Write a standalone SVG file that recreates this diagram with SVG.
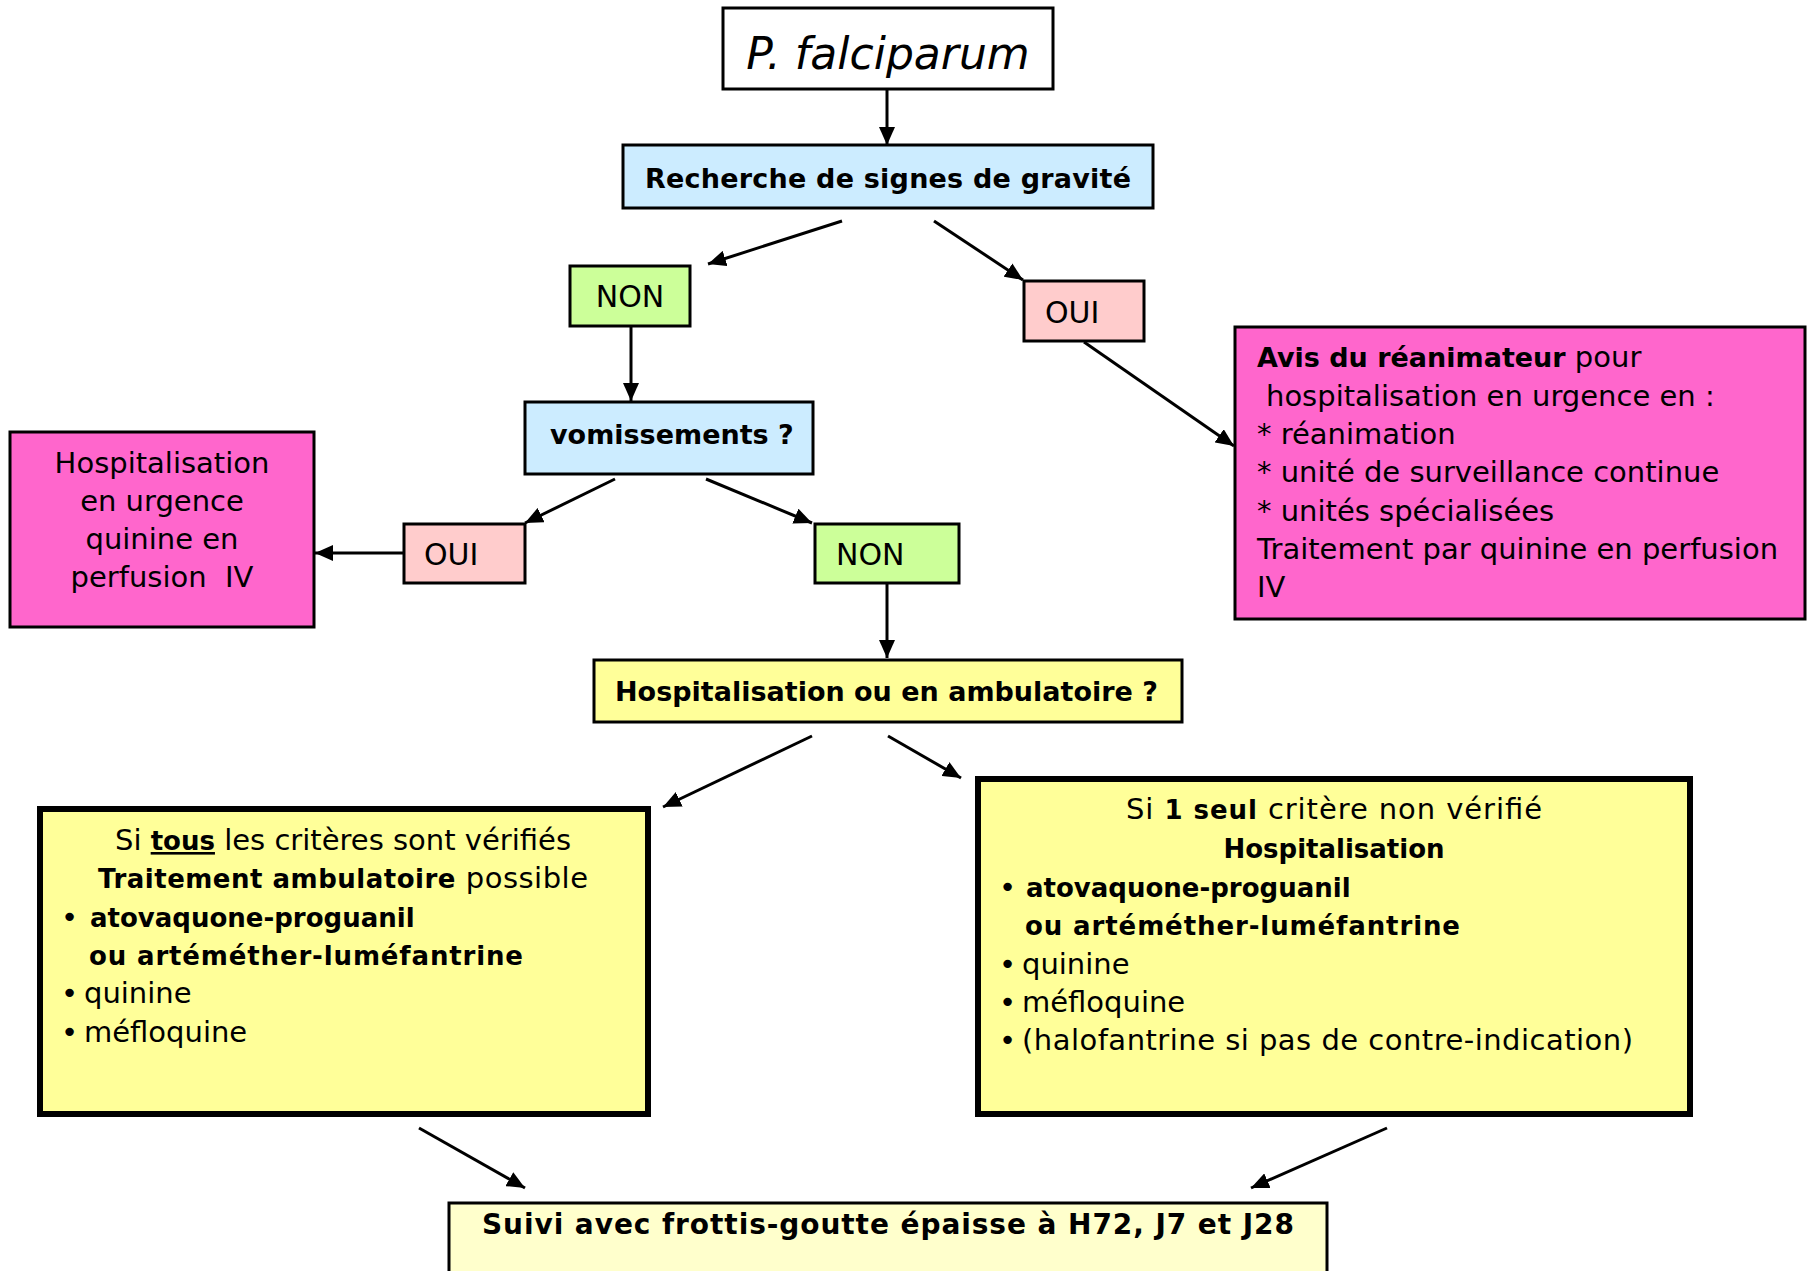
<svg xmlns="http://www.w3.org/2000/svg" width="1808" height="1271" viewBox="0 0 1808 1271">
<defs>
<style>
text{font-family:"DejaVu Sans","Liberation Sans",sans-serif;fill:#000}
.n{font-size:29px}
.b{font-size:27px;font-weight:bold}
.bs{font-size:26px;font-weight:bold}
.lbl{font-size:30px}
.box{stroke:#000;stroke-width:3}
.thick{stroke:#000;stroke-width:6}
.c{text-anchor:middle}
.con line{stroke:#000;stroke-width:3;marker-end:url(#ah)}
</style>
<marker id="ah" markerUnits="userSpaceOnUse" markerWidth="20" markerHeight="16" refX="18" refY="8" orient="auto">
<path d="M0,0 L18,8 L0,16 Z" fill="#000"/>
</marker>
</defs>
<rect width="1808" height="1271" fill="#fff"/>

<g id="connectors" class="con">
<line x1="887" y1="89" x2="887" y2="145"/>
<line x1="842" y1="221" x2="708" y2="264"/>
<line x1="934" y1="221" x2="1023" y2="280"/>
<line x1="631" y1="326" x2="631" y2="401"/>
<line x1="1084" y1="342" x2="1234" y2="446"/>
<line x1="615" y1="479" x2="525" y2="523"/>
<line x1="706" y1="479" x2="812" y2="523"/>
<line x1="404" y1="553" x2="315" y2="553"/>
<line x1="887" y1="583" x2="887" y2="658"/>
<line x1="812" y1="736" x2="663" y2="807"/>
<line x1="888" y1="736" x2="961" y2="778"/>
<line x1="419" y1="1128" x2="525" y2="1188"/>
<line x1="1387" y1="1128" x2="1251" y2="1188"/>
</g>

<g id="pfalciparum">
<rect class="box" x="723" y="8" width="330" height="81" fill="#fff"/>
<text x="888" y="69" class="c" style="font-size:44px;font-style:italic">P. falciparum</text>
</g>

<g id="recherche">
<rect class="box" x="623" y="145" width="530" height="63" fill="#CCECFF"/>
<text x="888" y="188" class="b c" textLength="486">Recherche de signes de gravité</text>
</g>

<g id="non1">
<rect class="box" x="570" y="266" width="120" height="60" fill="#CCFF99" stroke-width="2"/>
<text x="630" y="307" class="lbl c">NON</text>
</g>

<g id="oui1">
<rect class="box" x="1024" y="281" width="120" height="60" fill="#FFCCCC" stroke-width="2"/>
<text x="1045" y="323" class="lbl">OUI</text>
</g>

<g id="avis">
<rect class="box" x="1235" y="327" width="570" height="292" fill="#FF66CC"/>
<text x="1257" y="367" class="n"><tspan class="b">Avis du réanimateur</tspan> pour</text>
<text x="1266" y="406" class="n">hospitalisation en urgence en :</text>
<text x="1257" y="444" class="n">* réanimation</text>
<text x="1257" y="482" class="n">* unité de surveillance continue</text>
<text x="1257" y="521" class="n">* unités spécialisées</text>
<text x="1257" y="559" class="n">Traitement par quinine en perfusion</text>
<text x="1257" y="597" class="n">IV</text>
</g>

<g id="vomissements">
<rect class="box" x="525" y="402" width="288" height="72" fill="#CCECFF" stroke-width="3.5"/>
<text x="550" y="444" class="b">vomissements ?</text>
</g>

<g id="hosp-urgence">
<rect class="box" x="10" y="432" width="304" height="195" fill="#FF66CC"/>
<text x="162" y="473" class="n c">Hospitalisation</text>
<text x="162" y="511" class="n c">en urgence</text>
<text x="162" y="549" class="n c">quinine en</text>
<text x="162" y="587" class="n c" xml:space="preserve">perfusion  IV</text>
</g>

<g id="oui2">
<rect class="box" x="404" y="524" width="121" height="59" fill="#FFCCCC" stroke-width="2"/>
<text x="424" y="565" class="lbl">OUI</text>
</g>

<g id="non2">
<rect class="box" x="815" y="524" width="144" height="59" fill="#CCFF99" stroke-width="2"/>
<text x="836" y="565" class="lbl">NON</text>
</g>

<g id="hosp-amb">
<rect class="box" x="594" y="660" width="588" height="62" fill="#FFFF99"/>
<text x="615" y="701" class="b">Hospitalisation ou en ambulatoire ?</text>
</g>

<g id="ambulatoire">
<rect class="thick" x="40" y="809" width="608" height="305" fill="#FFFF99"/>
<text x="343" y="850" class="n c">Si <tspan class="bs" style="text-decoration:underline">tous</tspan> les critères sont vérifiés</text>
<text x="343" y="888" class="n c" textLength="490"><tspan class="bs">Traitement ambulatoire</tspan> possible</text>
<text x="61" y="927" class="n">•</text>
<text x="90" y="927" class="bs">atovaquone-proguanil</text>
<text x="89" y="965" class="bs" textLength="434">ou artéméther-luméfantrine</text>
<text x="61" y="1003" class="n">•</text>
<text x="84" y="1003" class="n">quinine</text>
<text x="61" y="1042" class="n">•</text>
<text x="84" y="1042" class="n">méfloquine</text>
</g>

<g id="hospitalisation">
<rect class="thick" x="978" y="779" width="712" height="335" fill="#FFFF99"/>
<text x="1334" y="819" class="n c" textLength="416">Si <tspan class="bs">1 seul</tspan> critère non vérifié</text>
<text x="1334" y="858" class="bs c">Hospitalisation</text>
<text x="999" y="897" class="n">•</text>
<text x="1026" y="897" class="bs">atovaquone-proguanil</text>
<text x="1025" y="935" class="bs" textLength="435">ou artéméther-luméfantrine</text>
<text x="999" y="974" class="n">•</text>
<text x="1022" y="974" class="n">quinine</text>
<text x="999" y="1012" class="n">•</text>
<text x="1022" y="1012" class="n">méfloquine</text>
<text x="999" y="1050" class="n">•</text>
<text x="1022" y="1050" class="n" textLength="611">(halofantrine si pas de contre-indication)</text>
</g>

<g id="suivi">
<rect class="box" x="449" y="1203" width="878" height="75" fill="#FFFFCC"/>
<text x="482" y="1234" class="b" style="font-size:28px" textLength="812">Suivi avec frottis-goutte épaisse à H72, J7 et J28</text>
</g>
</svg>
